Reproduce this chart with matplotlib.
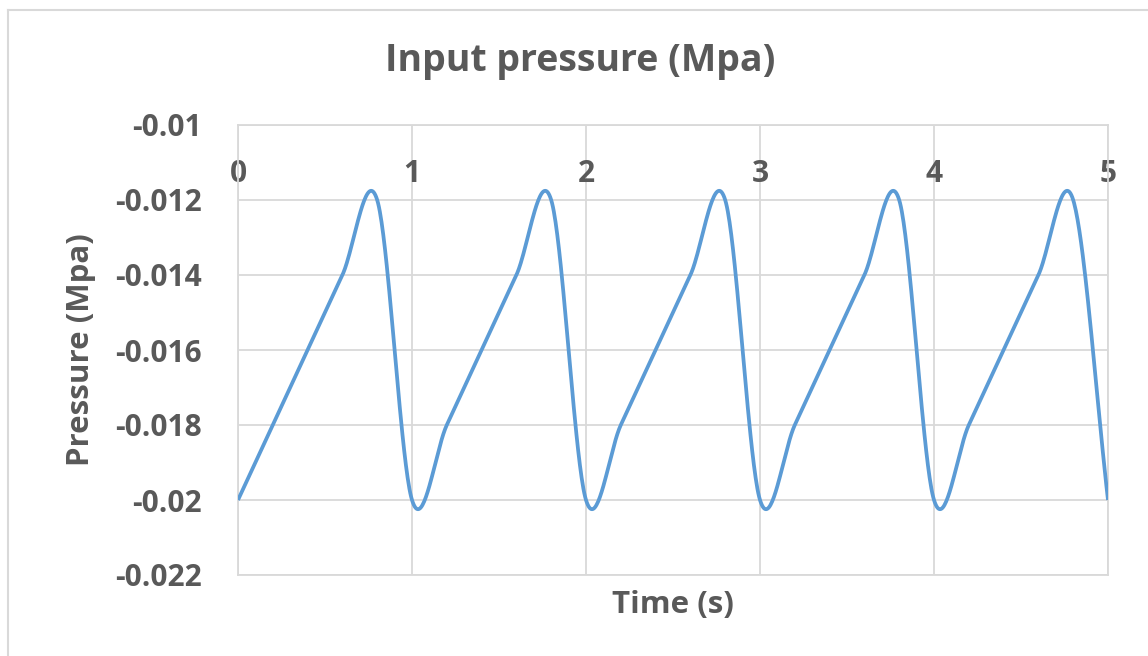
import numpy as np
import matplotlib
matplotlib.use("Agg")
import matplotlib.pyplot as plt
from matplotlib.lines import Line2D

# data (Excel smoothed line through these points)
time_s = [0.0, 0.2, 0.4, 0.6, 0.8,
          1.0, 1.2, 1.4, 1.6, 1.8,
          2.0, 2.2, 2.4, 2.6, 2.8,
          3.0, 3.2, 3.4, 3.6, 3.8,
          4.0, 4.2, 4.4, 4.6, 4.8,
          5.0]
pressure_mpa = [-0.020, -0.018, -0.016, -0.014, -0.012,
                -0.020, -0.018, -0.016, -0.014, -0.012,
                -0.020, -0.018, -0.016, -0.014, -0.012,
                -0.020, -0.018, -0.016, -0.014, -0.012,
                -0.020, -0.018, -0.016, -0.014, -0.012,
                -0.020]
x_ticks = [0, 1, 2, 3, 4, 5]
y_ticks = [-0.022, -0.02, -0.018, -0.016, -0.014, -0.012, -0.01]
y_labels = ["-0.022", "-0.02", "-0.018", "-0.016", "-0.014", "-0.012", "-0.01"]

TEXT = "#595959"
GRID = "#d9d9d9"
BLUE = "#5b9bd5"


def smooth(x, y, n=40):
    # catmull-rom style curve, like excel's "smoothed line"
    x = np.asarray(x, float)
    y = np.asarray(y, float)
    m = np.zeros_like(y)
    m[1:-1] = (y[2:] - y[:-2]) / (x[2:] - x[:-2])
    m[0] = (y[1] - y[0]) / (x[1] - x[0])
    m[-1] = (y[-1] - y[-2]) / (x[-1] - x[-2])
    xs, ys = [], []
    for i in range(len(x) - 1):
        h = x[i + 1] - x[i]
        s = np.linspace(0, 1, n, endpoint=False)
        h00 = 2 * s**3 - 3 * s**2 + 1
        h10 = s**3 - 2 * s**2 + s
        h01 = -2 * s**3 + 3 * s**2
        h11 = s**3 - s**2
        xs.append(x[i] + s * h)
        ys.append(h00 * y[i] + h10 * h * m[i] + h01 * y[i + 1] + h11 * h * m[i + 1])
    xs.append([x[-1]])
    ys.append([y[-1]])
    return np.concatenate(xs), np.concatenate(ys)


plt.rcParams['font.family'] = ['Open Sans', 'DejaVu Sans']
plt.rcParams['font.weight'] = 'bold'

fig = plt.figure(figsize=(11.48, 6.56), dpi=100)
ax = fig.add_axes([238 / 1148, 1 - 575 / 656, 870 / 1148, 450 / 656])

sx, sy = smooth(time_s, pressure_mpa)
ax.plot(sx, sy, color=BLUE, lw=2.7, solid_capstyle='butt', zorder=3)

ax.set_xlim(0, 5)
ax.set_ylim(-0.022, -0.01)
ax.set_xticks(x_ticks)
ax.set_yticks(y_ticks)
ax.set_yticklabels(y_labels)
ax.grid(True, color=GRID, lw=1.3)
ax.set_axisbelow(True)
for sp in ax.spines.values():
    sp.set_color(GRID)
    sp.set_linewidth(1.3)

ax.tick_params(axis='y', length=0, pad=26, labelsize=21.5, labelcolor=TEXT)
ax.tick_params(axis='x', length=0, top=True, bottom=False, labeltop=True,
               labelbottom=False, pad=-46, labelsize=21.5, labelcolor=TEXT)

ax.set_xlabel("Time (s)", fontsize=22.5, color=TEXT, fontweight='bold', labelpad=11)
ax.set_ylabel("Pressure (Mpa)", fontsize=22.5, color=TEXT, fontweight='bold', labelpad=14)
fig.text(580 / 1148, 1 - 61 / 656, "Input pressure (Mpa)", fontsize=27,
         color=TEXT, fontweight='bold', ha='center', va='center')

# chart frame (only top and left edges are in view)
fig.add_artist(Line2D([8 / 1148, 1.0], [1 - 10 / 656, 1 - 10 / 656], color=GRID, lw=1.5))
fig.add_artist(Line2D([8 / 1148, 8 / 1148], [0.0, 1 - 10 / 656], color=GRID, lw=1.5))

fig.savefig("out.png", dpi=100)
